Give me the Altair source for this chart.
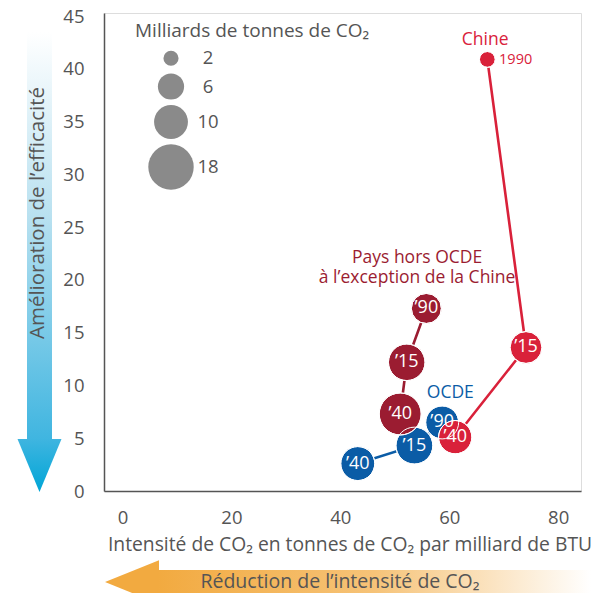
import altair as alt
import pandas as pd

# ---- data ----
groups = ["OCDE", "OCDE", "OCDE", "Hors OCDE", "Hors OCDE", "Hors OCDE", "Chine", "Chine", "Chine"]
years = [1990, 2015, 2040, 1990, 2015, 2040, 1990, 2015, 2040]
short_labels = ["’90", "’15", "’40", "’90", "’15", "’40", "", "’15", "’40"]
intensity = [58.7, 53.6, 43.2, 55.8, 52.2, 51.0, 67.0, 74.1, 61.1]
efficiency = [6.5, 4.3, 2.6, 17.3, 12.2, 7.3, 40.9, 13.6, 5.1]
emissions = [9.5, 11.9, 10.1, 7.9, 11.7, 15.4, 2.2, 8.9, 9.7]
draw_order = [1, 2, 3, 4, 5, 6, 7, 8, 9]

group_names = ["OCDE", "Hors OCDE", "Chine"]
group_colors = ["#0b5ca6", "#9b1c31", "#d9213a"]

legend_values = [2, 6, 10, 18]
x_ticks = [0, 20, 40, 60, 80]
y_ticks = [0, 5, 10, 15, 20, 25, 30, 35, 40, 45]

ann_text = ["Chine", "Pays hors OCDE", "à l’exception de la Chine", "OCDE"]
ann_x = [66.6, 54.1, 54.1, 60.2]
ann_y = [42.7, 22.1, 20.2, 9.3]
ann_group = ["Chine", "Hors OCDE", "Hors OCDE", "OCDE"]

year_text = ["1990"]
year_x = [72.2]
year_y = [40.85]
year_group = ["Chine"]

FONT = "Open Sans"
GRAY = "#555555"

df = pd.DataFrame({
    "group": groups, "year": years, "lab": short_labels,
    "x": intensity, "y": efficiency, "co2": emissions, "ord": draw_order,
})
ann = pd.DataFrame({"t": ann_text, "x": ann_x, "y": ann_y, "group": ann_group})
yr = pd.DataFrame({"t": year_text, "x": year_x, "y": year_y, "group": year_group})

xs = alt.Scale(domain=[-3.4, 84.2], nice=False, zero=False)
ys = alt.Scale(domain=[0, 45.3], nice=False, zero=False)
cs = alt.Scale(domain=group_names, range=group_colors)
ss = alt.Scale(domain=[0, 18], range=[0, 2063], zero=True)

X = alt.X("x:Q", scale=xs, axis=alt.Axis(
    values=x_ticks, title=None, ticks=False, grid=False, labelFontSize=18.5,
    labelColor=GRAY, domainColor=GRAY, domainWidth=1.5, labelPadding=17, labelFont=FONT))
Y = alt.Y("y:Q", scale=ys, axis=alt.Axis(
    values=y_ticks, title=None, ticks=False, grid=False, labelFontSize=18.5,
    labelColor=GRAY, domainColor=GRAY, domainWidth=1.5, labelPadding=20, labelFont=FONT))
Xn = alt.X("x:Q", scale=xs)
Yn = alt.Y("y:Q", scale=ys)

one = pd.DataFrame({"t": [""]})

# ---- decorative gradient arrows ----
blue_grad = alt.LinearGradient(gradient="linear", x1=0, y1=0, x2=0, y2=1, stops=[
    alt.GradientStop(color="#ffffff", offset=0),
    alt.GradientStop(color="#b9e1f0", offset=0.45),
    alt.GradientStop(color="#3fb5e0", offset=1)])
blue_head = alt.LinearGradient(gradient="linear", x1=0, y1=0, x2=0, y2=1, stops=[
    alt.GradientStop(color="#3fb5e0", offset=0),
    alt.GradientStop(color="#00a5d6", offset=1)])
orange_grad = alt.LinearGradient(gradient="linear", x1=0, y1=0, x2=1, y2=0, stops=[
    alt.GradientStop(color="#f2aa40", offset=0),
    alt.GradientStop(color="#f6c378", offset=0.5),
    alt.GradientStop(color="#ffffff", offset=1)])

v_shaft = alt.Chart(one).mark_rect(fill=blue_grad).encode(
    x=alt.value(-77), x2=alt.value(-52), y=alt.value(19), y2=alt.value(427))
v_head = alt.Chart(one).mark_point(
    shape="M-0.83,-1L0.83,-1L0,1Z", filled=True, fill=blue_head, opacity=1, strokeWidth=0, size=2809
).encode(x=alt.value(-64.5), y=alt.value(452.5))
h_shaft = alt.Chart(one).mark_rect(fill=orange_grad).encode(
    x=alt.value(54), x2=alt.value(487), y=alt.value(557), y2=alt.value(582))
h_head = alt.Chart(one).mark_point(
    shape="M1,-0.81L1,0.81L-1,0Z", filled=True, fill="#f2aa40", opacity=1, strokeWidth=0, size=2916
).encode(x=alt.value(28), y=alt.value(569))

def label(text, x, y, size=16.5, angle=0, color=GRAY):
    return alt.Chart(pd.DataFrame({"t": [text]})).mark_text(
        font=FONT, fontSize=size, color=color, angle=angle, align="center", baseline="middle"
    ).encode(text="t:N", x=alt.value(x), y=alt.value(y))

y_title = label("Amélioration de l’efficacité", -66.5, 200, 20.5, 270)
x_title = label("Intensité de CO₂ en tonnes de CO₂  par milliard de BTU", 246, 532, 19.3)
arrow_text = label("Réduction de l’intensité de CO₂", 236, 569, 19.5)
legend_title = alt.Chart(pd.DataFrame({"t": ["Milliards de tonnes de CO₂"]})).mark_text(
    font=FONT, fontSize=19, color=GRAY, align="left", baseline="middle"
).encode(text="t:N", x=alt.value(31), y=alt.value(18))

# ---- data layers ----
base = alt.Chart(df)
lines = base.mark_line(strokeWidth=2.6).encode(
    x=X, y=Y, color=alt.Color("group:N", scale=cs, legend=None),
    detail="group:N", order=alt.Order("year:Q"))
circles = base.mark_circle(opacity=1, stroke="white", strokeWidth=1).encode(
    x=Xn, y=Yn, color=alt.Color("group:N", scale=cs, legend=None),
    size=alt.Size("co2:Q", scale=ss, legend=alt.Legend(
        orient="none", legendX=44, legendY=36, title=None, values=legend_values,
        symbolType="circle", symbolFillColor="#8a8a8a", symbolStrokeWidth=0,
        symbolOpacity=1, labelFontSize=18.5, labelColor=GRAY, labelFont=FONT,
        labelAlign="center", labelOffset=14, rowPadding=5, padding=0)),
    order=alt.Order("ord:Q"))
outlines = base.mark_circle(filled=False, stroke="white", strokeWidth=1, opacity=1).encode(
    x=Xn, y=Yn, size=alt.Size("co2:Q", scale=ss, legend=None))
inner = base.mark_text(font=FONT, fontSize=18, color="white", baseline="middle").encode(
    x=Xn, y=Yn, text="lab:N")
annotations = alt.Chart(ann).mark_text(font=FONT, fontSize=17.5, baseline="middle").encode(
    x=Xn, y=Yn, text="t:N", color=alt.Color("group:N", scale=cs, legend=None))
year_ann = alt.Chart(yr).mark_text(font=FONT, fontSize=14.5, baseline="middle").encode(
    x=Xn, y=Yn, text="t:N", color=alt.Color("group:N", scale=cs, legend=None))

chart = alt.layer(
    v_shaft, v_head, h_shaft, h_head, y_title, x_title, arrow_text, legend_title,
    lines, circles, outlines, inner, annotations, year_ann
).properties(
    width=477, height=478,
    autosize=alt.AutoSizeParams(type="none"),
    padding={"left": 96, "top": 5, "right": 15, "bottom": 102},
).configure_view(stroke=None).configure(font=FONT)

chart.save("out.html", embed_options={"renderer": "svg", "actions": False})
